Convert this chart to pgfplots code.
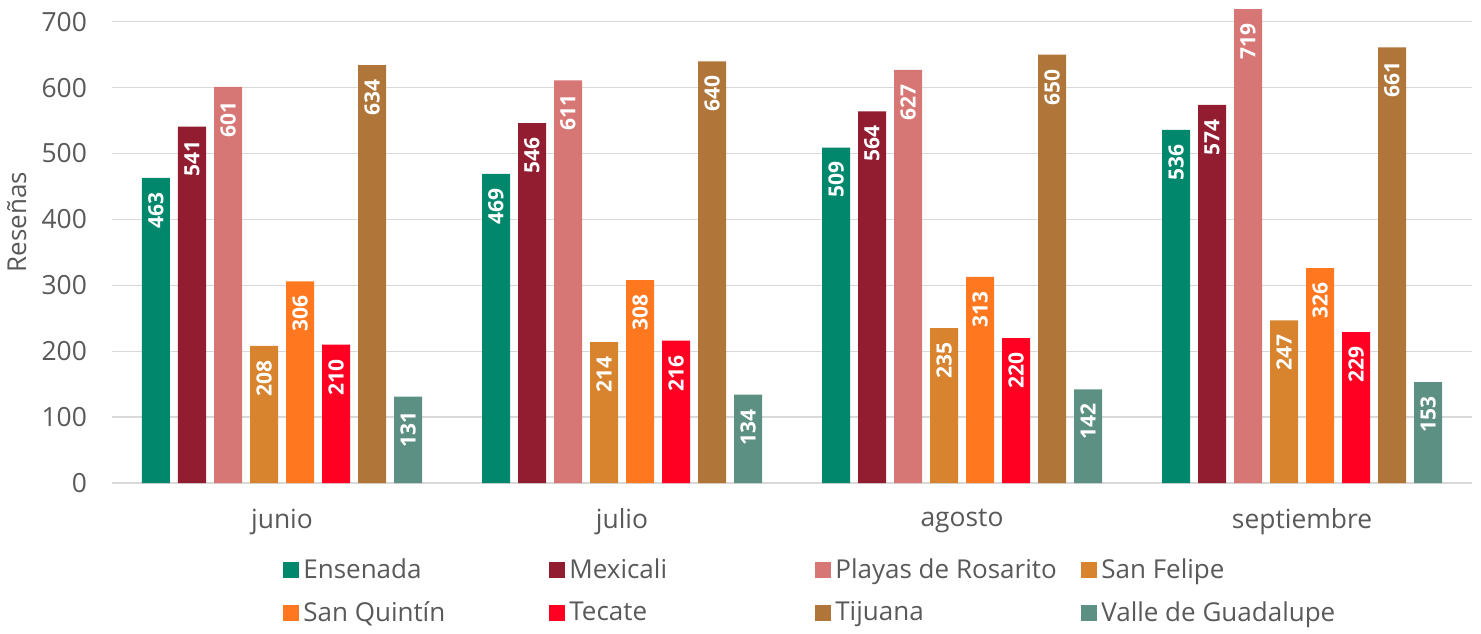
\documentclass[border=0pt]{standalone}
\usepackage{fontspec}
\setmainfont{Open Sans}
\usepackage{pgfplots}
\pgfplotsset{compat=1.18}

\definecolor{cEns}{HTML}{00876C}
\definecolor{cMex}{HTML}{921C30}
\definecolor{cPla}{HTML}{D77775}
\definecolor{cSFe}{HTML}{D8842E}
\definecolor{cSQu}{HTML}{FF7820}
\definecolor{cTec}{HTML}{FF0022}
\definecolor{cTij}{HTML}{B07539}
\definecolor{cVal}{HTML}{5C9082}
\definecolor{txt}{HTML}{595959}
\definecolor{grd}{HTML}{D9D9D9}

\newcommand{\legbox}[1]{\makebox[118pt][l]{#1}}

\begin{document}
\begin{tikzpicture}
\begin{axis}[
  at={(0,0)}, anchor=south west,
  scale only axis, width=680pt, height=237.25pt,
  ybar=4pt, bar width=14pt,
  xmin=-0.5, xmax=3.5, ymin=0, ymax=720,
  xtick=data, xticklabels={junio,julio,agosto,septiembre},
  ytick={0,100,...,700},
  axis line style={draw=none},
  tick style={draw=none},
  ymajorgrids, major grid style={grd, line width=0.7pt},
  /pgf/number format/assume math mode=true,
  ticklabel style={font=\fontsize{13.2}{15}\selectfont, text=txt},
  xticklabel style={yshift=-5pt},
  yticklabel style={xshift=-9pt},
  ylabel={Reseñas},
  ylabel style={at={(axis description cs:-0.07,0.55)}, anchor=center, font=\fontsize{13}{15}\selectfont, text=txt},
  nodes near coords,
  every node near coord/.append style={rotate=90, anchor=east, inner xsep=7pt,
    font=\fontsize{10.5}{12}\selectfont\bfseries, text=white},
  legend columns=4,
  legend cell align=left,
  legend image code/.code={\fill[#1, draw=none] (0pt,-4pt) rectangle (8pt,4pt);},
  legend style={draw=none, fill=none, at={(axis description cs:0.1257,-0.15)}, anchor=north west,
    font=\fontsize{13}{16}\selectfont, text=txt, inner sep=0pt,
    /tikz/every even column/.append style={column sep=3pt},
    row sep=6pt},
]
\addplot[fill=cEns, draw=none] coordinates {(0,463) (1,469) (2,509) (3,536)};
\addplot[fill=cMex, draw=none] coordinates {(0,541) (1,546) (2,564) (3,574)};
\addplot[fill=cPla, draw=none] coordinates {(0,601) (1,611) (2,627) (3,719)};
\addplot[fill=cSFe, draw=none] coordinates {(0,208) (1,214) (2,235) (3,247)};
\addplot[fill=cSQu, draw=none] coordinates {(0,306) (1,308) (2,313) (3,326)};
\addplot[fill=cTec, draw=none] coordinates {(0,210) (1,216) (2,220) (3,229)};
\addplot[fill=cTij, draw=none] coordinates {(0,634) (1,640) (2,650) (3,661)};
\addplot[fill=cVal, draw=none] coordinates {(0,131) (1,134) (2,142) (3,153)};
\legend{\legbox{Ensenada},\legbox{Mexicali},\legbox{Playas de Rosarito},\legbox{San Felipe},
        \legbox{San Quintín},\legbox{Tecate},\legbox{Tijuana},\legbox{Valle de Guadalupe}}
\end{axis}
\useasboundingbox (-56pt,-75pt) rectangle (684.5pt,240.5pt);
\end{tikzpicture}
\end{document}
